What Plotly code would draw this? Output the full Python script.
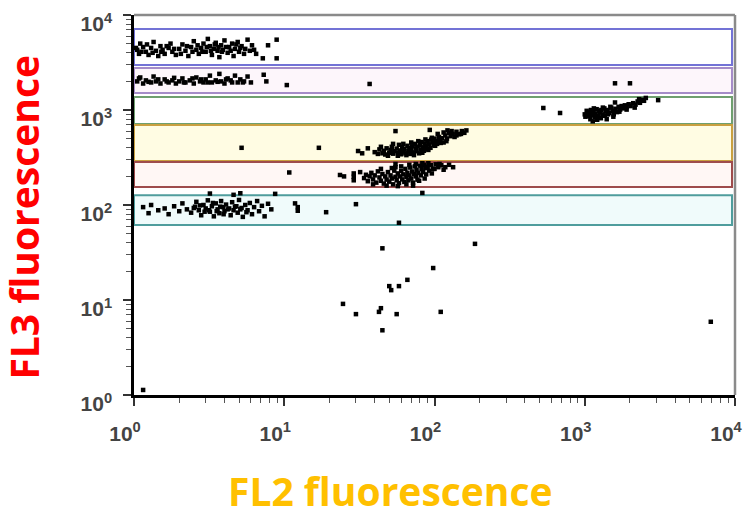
import plotly.graph_objects as go

# gated populations (FL2, FL3)
blue_x = [1.03, 1.05, 1.08, 1.1, 1.12, 1.15, 1.2, 1.22, 1.25, 1.3, 1.33, 1.35, 1.4, 1.45, 1.5, 1.52,
          1.55, 1.6, 1.65, 1.7, 1.75, 1.8, 1.85, 1.9, 2.0, 2.05, 2.1, 2.2, 2.25, 2.3, 2.4, 2.45,
          2.5, 2.6, 2.65, 2.7, 2.8, 2.85, 2.9, 3.0, 3.05, 3.1, 3.2, 3.25, 3.3, 3.4, 3.45, 3.5,
          3.6, 3.65, 3.7, 3.8, 3.85, 3.9, 4.0, 4.1, 4.2, 4.3, 4.4, 4.5, 4.6, 4.7, 4.8, 4.9,
          5.0, 5.1, 5.2, 5.4, 5.5, 5.7, 5.9, 6.1, 6.3, 6.5, 7.2, 7.8, 8.9, 8.9]
blue_y = [4500, 4300, 3900, 5000, 4100, 4600, 4100, 4900, 3800, 4500, 4000, 5200, 4200, 3700, 4700, 4100,
          4300, 3900, 4700, 4500, 5000, 4100, 4400, 3800, 4400, 3900, 4900, 4200, 4700, 3700, 4600, 4100,
          5300, 4300, 4800, 3900, 4500, 4100, 5000, 4100, 4600, 5600, 4700, 4200, 3800, 4400, 4900, 5100,
          4200, 4600, 3600, 4800, 4100, 4300, 5400, 4600, 4000, 4600, 4200, 5000, 3700, 4400, 4900, 5200,
          4100, 4500, 4700, 3900, 4400, 5500, 4200, 4800, 4300, 3900, 3500, 4800, 5500, 3500]

purple_x = [1.05, 1.08, 1.1, 1.15, 1.2, 1.25, 1.3, 1.35, 1.4, 1.45, 1.5, 1.6, 1.65, 1.7, 1.8, 1.85,
            1.9, 2.0, 2.1, 2.15, 2.2, 2.35, 2.45, 2.5, 2.6, 2.75, 2.8, 2.9, 3.0, 3.1, 3.2, 3.3,
            3.5, 3.6, 3.7, 3.8, 4.0, 4.1, 4.2, 4.4, 4.5, 4.7, 4.9, 5.1, 5.3, 5.4, 5.7, 6.0,
            7.3, 7.6, 10.4, 37]
purple_y = [2000, 2150, 2200, 1900, 2050, 1980, 1950, 2250, 2000, 2100, 1900, 2100, 2000, 1950, 2050, 2180,
            1900, 2000, 2150, 1950, 1950, 2050, 2150, 1900, 2200, 2000, 2100, 1950, 2100, 1950, 2300, 1950,
            2050, 1980, 2400, 2000, 1900, 2100, 2150, 2050, 1950, 2300, 1950, 2100, 1950, 2000, 2250, 1950,
            2350, 2000, 1830, 1880]

green_x = [1000, 1010, 1030, 1050, 1060, 1080, 1090, 1100, 1120, 1130, 1140, 1150, 1170, 1180, 1200, 1210,
           1230, 1250, 1260, 1280, 1290, 1310, 1320, 1350, 1360, 1380, 1400, 1420, 1430, 1460, 1480, 1500,
           1530, 1550, 1560, 1600, 1620, 1640, 1680, 1720, 1760, 1800, 1850, 1900, 1960, 2020, 2100, 2180,
           2250, 2300, 2330, 2400, 2480, 2550, 1700, 1900, 2150, 1590, 1590, 2000, 3080, 530, 685]
green_y = [900, 850, 980, 860, 930, 940, 800, 1000, 880, 760, 960, 1040, 840, 920, 1020, 790,
           870, 980, 950, 820, 1000, 900, 1060, 1040, 870, 960, 800, 1000, 900, 930, 1080, 1060,
           980, 850, 900, 1030, 960, 950, 1080, 1010, 1100, 1040, 1120, 1070, 1150, 1100, 1180, 1140,
           1230, 1300, 1190, 1280, 1250, 1340, 960, 1010, 1060, 1200, 1910, 1910, 1270, 1050, 930]

yellow_x = [40, 42, 43, 45, 46, 47, 48, 50, 51, 52, 53, 54, 56, 57, 58, 59, 60, 61, 62, 63, 64, 66, 67,
            68, 69, 70, 71, 72, 74, 75, 76, 77, 79, 80, 81, 82, 84, 85, 86, 88, 89, 90, 92, 94, 95, 97,
            99, 100, 102, 104, 107, 109, 112, 115, 118, 121, 125, 128, 132, 136, 140, 146, 152, 158, 163,
            44, 49, 53, 57, 62, 65, 70, 73, 78, 83, 87, 91, 96, 101, 105, 110, 115, 120, 122, 130, 140, 150,
            55, 93, 36, 31, 33, 17, 5.2]
yellow_y = [360, 345, 385, 350, 372, 340, 395, 355, 380, 410, 347, 368, 392, 352, 430, 375, 342, 405, 365,
            388, 350, 420, 372, 398, 345, 380, 415, 358, 440, 395, 368, 412, 350, 430, 385, 460, 405, 372,
            445, 420, 390, 470, 435, 400, 488, 455, 425, 500, 470, 440, 520, 480, 505, 455, 540, 500, 575,
            530, 560, 520, 590, 555, 600, 575, 610,
            410, 330, 440, 330, 440, 335, 455, 335, 470, 355, 490, 380, 510, 420, 560, 450, 580, 470, 610,
            600, 540, 560,
            600, 617, 395, 370, 350, 400, 400]

brown_x = [23.5, 25, 29, 29, 29, 32, 34, 35, 36, 37, 38, 39, 40, 41, 42, 43, 44, 45, 46, 47, 48, 49, 50,
           51, 52, 53, 54, 55, 55, 55, 56, 57, 58, 59, 60, 61, 62, 63, 64, 65, 66, 67, 68, 69, 70, 71,
           72, 73, 74, 75, 76, 77, 78, 80, 81, 82, 84, 85, 87, 88, 90, 92, 95, 98, 102, 106, 111, 118,
           125, 133, 39, 44, 48, 52, 57, 60, 65, 68, 72, 75, 79, 83, 86, 91, 96, 100, 108, 115, 10.8]
brown_y = [207, 200, 215, 198, 182, 222, 192, 208, 178, 200, 218, 186, 205, 172, 226, 195, 180, 212, 168,
           200, 185, 222, 176, 205, 190, 165, 230, 198, 250, 270, 182, 215, 170, 200, 228, 186, 210, 175,
           240, 198, 218, 182, 205, 248, 190, 225, 172, 212, 255, 200, 235, 185, 218, 260, 205, 240, 222,
           265, 245, 210, 252, 230, 262, 240, 268, 250, 262, 250, 265, 250, 165, 240, 160, 245, 158, 255,
           165, 265, 160, 270, 180, 275, 190, 275, 215, 240, 270, 235, 220]

cyan_x = [1.15, 1.25, 1.3, 1.45, 1.6, 1.7, 1.85, 2.0, 2.1, 2.25, 2.4, 2.5, 2.55, 2.6, 2.7, 2.75, 2.8,
          2.9, 2.95, 3.0, 3.1, 3.15, 3.2, 3.3, 3.35, 3.4, 3.5, 3.55, 3.6, 3.7, 3.75, 3.8, 3.9, 3.95,
          4.0, 4.1, 4.2, 4.3, 4.4, 4.5, 4.6, 4.7, 4.8, 4.9, 5.0, 5.1, 5.2, 5.3, 5.5, 5.6, 5.7, 5.9,
          6.1, 6.3, 6.6, 6.8, 7.1, 7.4, 7.8, 8.2, 3.2, 4.6, 5.1, 8.7, 11.8, 12.3, 12.3, 19, 30, 58, 83]
cyan_y = [95, 82, 100, 88, 92, 80, 97, 86, 104, 90, 83, 93, 96, 108, 88, 99, 78, 100, 85, 92, 112, 88,
          85, 97, 105, 76, 104, 86, 90, 82, 96, 110, 95, 80, 86, 101, 90, 92, 78, 107, 88, 96, 97, 83,
          113, 90, 93, 75, 100, 84, 88, 105, 80, 95, 110, 86, 98, 76, 103, 90, 132, 128, 133, 131, 104,
          95, 87, 84, 102, 65, 134]

low_x = [45, 186, 98, 66, 58, 50, 51.5, 24.6, 30, 44, 42.7, 56, 110, 45, 6900, 1.15]
low_y = [35, 39, 21.7, 16.3, 14, 14, 12.7, 9.1, 7.1, 8.2, 7.5, 7.1, 7.5, 4.8, 5.9, 1.13]

# gates: FL3 low / high edge, outline and fill
gate_lo = [2980, 1510, 712, 290, 155, 61.5]
gate_hi = [7130, 2770, 1370, 695, 284, 127]
gate_line = ["#7373d6", "#a58cc8", "#6f9f6f", "#c9a040", "#9e4c4c", "#4f9d9d"]
gate_fill = ["rgba(255,255,255,0)", "#fdf6fb", "rgba(255,255,255,0)", "#fffce3", "#fff7f5", "#f0fbfb"]
gate_x_max = 9550

tick_vals = [1, 10, 100, 1000, 10000]
tick_text = ["10<sup>0</sup>", "10<sup>1</sup>", "10<sup>2</sup>", "10<sup>3</sup>", "10<sup>4</sup>"]

fig = go.Figure()

for lo, hi, lc, fc in zip(gate_lo, gate_hi, gate_line, gate_fill):
    fig.add_shape(type="rect", xref="x", yref="y", x0=1, x1=gate_x_max, y0=lo, y1=hi,
                  line=dict(color=lc, width=2), fillcolor=fc, layer="below")

# grey frame on the top and right
fig.add_shape(type="line", xref="paper", yref="paper", x0=0, x1=1, y0=1, y1=1,
              line=dict(color="#8a8a8a", width=2.5))
fig.add_shape(type="line", xref="paper", yref="paper", x0=1, x1=1, y0=0, y1=1,
              line=dict(color="#8a8a8a", width=2.5))

all_x = blue_x + purple_x + green_x + yellow_x + brown_x + cyan_x + low_x
all_y = blue_y + purple_y + green_y + yellow_y + brown_y + cyan_y + low_y
fig.add_scatter(x=all_x, y=all_y, mode="markers",
                marker=dict(symbol="square", size=4.5, color="black", line=dict(width=0)),
                showlegend=False, cliponaxis=False)

axis_common = dict(
    type="log", range=[0, 4], tickvals=tick_vals, ticktext=tick_text, automargin=False,
    showgrid=False, zeroline=False, showline=True, linecolor="black", linewidth=2.5,
    ticks="outside", ticklen=8, tickwidth=1.5, tickcolor="#333", ticklabeloverflow="allow",
    minor=dict(ticks="outside", ticklen=5, tickcolor="#555", tickwidth=1, dtick="D1", showgrid=False),
    tickfont=dict(family="Liberation Sans", size=21, color="#444", weight="bold"),
)

fig.update_layout(
    width=745, height=513,
    margin=dict(l=134, r=10, t=15, b=118),
    plot_bgcolor="white", paper_bgcolor="white",
    xaxis=dict(**axis_common, ticklabelstandoff=10, ticklabelshift=-9),
    yaxis=dict(**axis_common, ticklabelstandoff=7, ticklabelshift=9),
    annotations=[
        dict(text="<b>FL2 fluorescence</b>", xref="paper", yref="paper", x=0.426, y=-0.25,
             xanchor="center", yanchor="middle", showarrow=False,
             font=dict(family="Open Sans", size=39, color="#ffc000")),
        dict(text="<b>FL3 fluorescence</b>", xref="paper", yref="paper", x=-0.184, y=0.468,
             xanchor="center", yanchor="middle", showarrow=False, textangle=-90,
             font=dict(family="Open Sans", size=39, color="#ff0000")),
    ],
)

# the page body has an 8px default margin; drop it so the figure sits at the window origin
fig.write_html("out.html", config={"displayModeBar": False},
               post_script="document.body.style.margin='0';")
